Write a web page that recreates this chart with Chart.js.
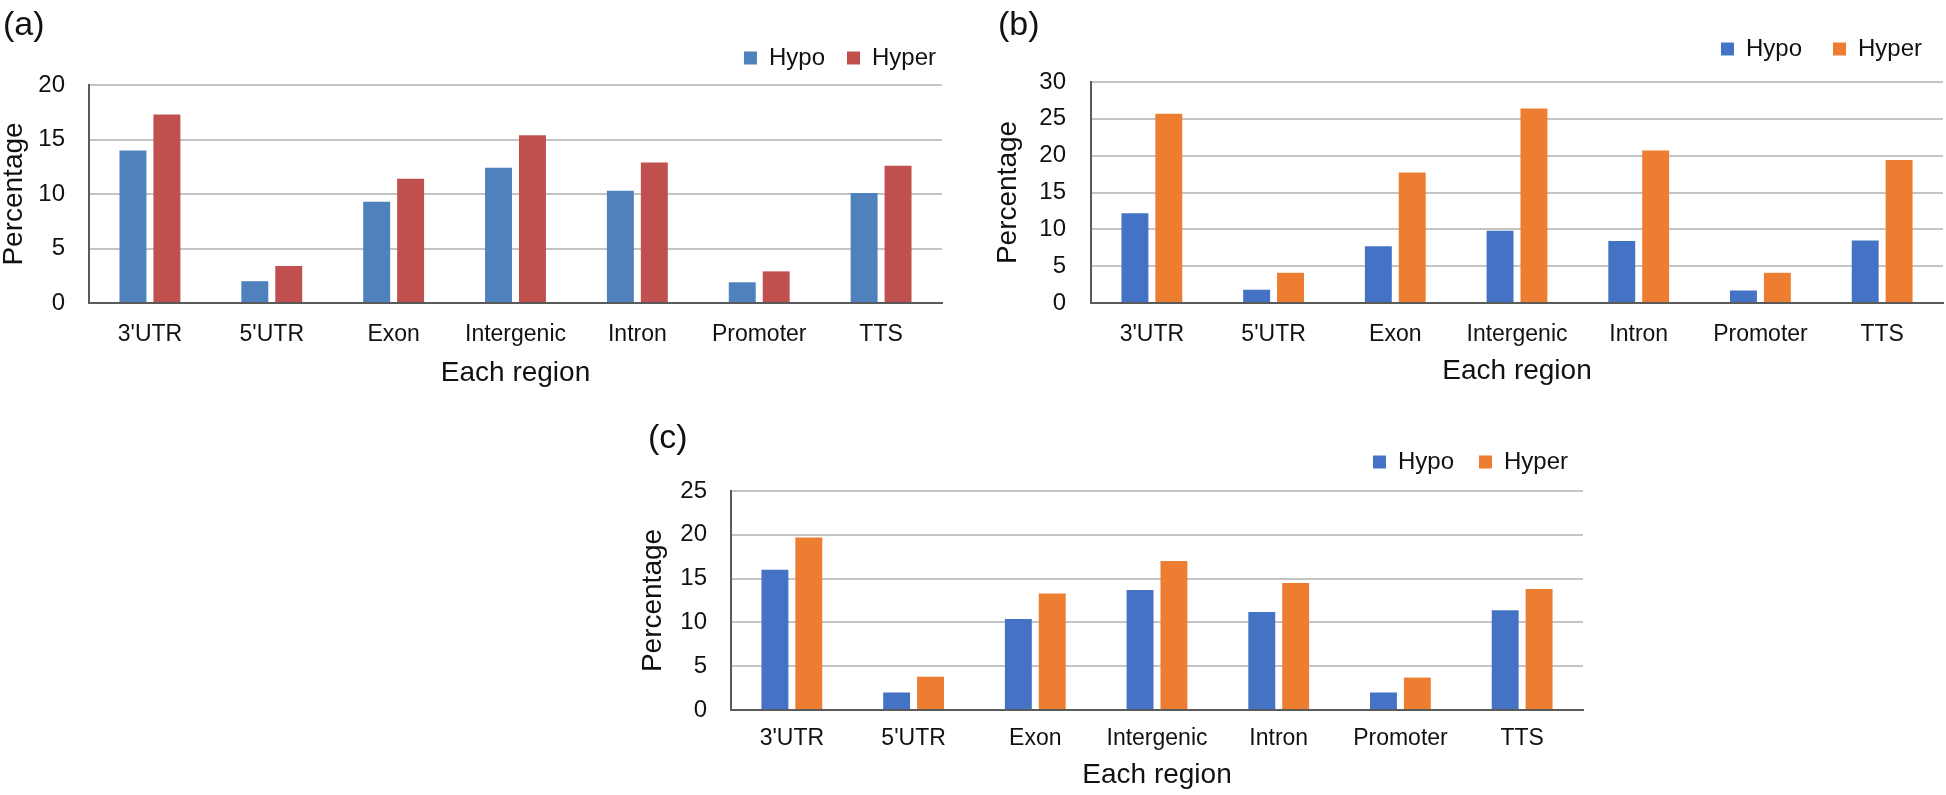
<!DOCTYPE html>
<html>
<head>
<meta charset="utf-8">
<title>Hypo / Hyper by region</title>
<script src="https://cdn.jsdelivr.net/npm/chart.js@4/dist/chart.umd.min.js"></script>
<style>
  html, body { margin: 0; padding: 0; background: #fff; overflow: hidden; }
  body { width: 1946px; height: 795px; position: relative; font-family: "Liberation Sans", Arial, sans-serif; }
  canvas { position: absolute; }
  .tag { position: absolute; font-size: 34px; line-height: 1; color: #111; }
</style>
</head>
<body>
<canvas id="chartA" width="960" height="400" style="left:0;top:0"></canvas>
<canvas id="chartB" width="1000" height="400" style="left:960px;top:0"></canvas>
<canvas id="chartC" width="1000" height="395" style="left:620px;top:400px"></canvas>
<div class="tag" style="left:3px;top:6px">(a)</div>
<div class="tag" style="left:998px;top:6px">(b)</div>
<div class="tag" style="left:648px;top:419px">(c)</div>

<script>
// data
const regions = ["3'UTR", "5'UTR", 'Exon', 'Intergenic', 'Intron', 'Promoter', 'TTS'];
const seriesNames = ['Hypo', 'Hyper'];

const hypoA  = [14.0, 2.0,  9.3, 12.4, 10.3, 1.9, 10.1];
const hyperA = [17.3, 3.4, 11.4, 15.4, 12.9, 2.9, 12.6];

const hypoB  = [12.2, 1.8,  7.7,  9.8,  8.4, 1.7,  8.5];
const hyperB = [25.7, 4.1, 17.7, 26.4, 20.7, 4.1, 19.4];

const hypoC  = [16.0, 2.0, 10.4, 13.7, 11.2, 2.0, 11.4];
const hyperC = [19.7, 3.8, 13.3, 17.0, 14.5, 3.7, 13.8];

const yMaxA = 20, yMaxB = 30, yMaxC = 25;
const yStep = 5;

// styles
const FONT = '"Liberation Sans", Arial, sans-serif';
const TEXT = '#111';
const GRID = '#c4c4c4';
const AXIS = '#5a5a5a';

function makeChart(id, hypo, hyper, colors, yMax, L) {
    // empty helper axes only reserve space (gap under legend, right margin)
    const spacer = (axis, pos, size) => ({
        axis, position: pos, display: true,
        grid: { display: false, drawTicks: false }, border: { display: false },
        ticks: { display: false },
        afterFit: s => { if (axis === 'x') s.height = size; else s.width = size; }
    });

    return new Chart(document.getElementById(id), {
        type: 'bar',
        data: {
            labels: regions,
            datasets: [
                { label: seriesNames[0], data: hypo, backgroundColor: colors[0], xAxisID: 'x', yAxisID: 'y' },
                { label: seriesNames[1], data: hyper, backgroundColor: colors[1], xAxisID: 'x', yAxisID: 'y' }
            ]
        },
        options: {
            responsive: false,
            animation: false,
            categoryPercentage: 0.557,
            barPercentage: 0.794,
            layout: { padding: { top: L.top, right: L.right, left: 0, bottom: 0 } },
            plugins: {
                legend: {
                    position: 'top', align: 'end',
                    labels: { boxWidth: 13, boxHeight: 13, padding: L.legendGap, color: TEXT, font: { family: FONT, size: 24 } }
                },
                tooltip: { enabled: false }
            },
            scales: {
                x: {
                    grid: { display: false, drawTicks: false },
                    border: { color: AXIS, width: 2 },
                    ticks: { padding: L.xTickPad, color: TEXT, font: { family: FONT, size: 23 } },
                    title: { display: true, text: 'Each region', color: TEXT, font: { family: FONT, size: 28, lineHeight: 1 }, padding: { top: 0, bottom: L.xTitlePad } },
                    afterFit: s => { s.height = L.xHeight; }
                },
                y: {
                    min: 0, max: yMax,
                    ticks: { stepSize: yStep, padding: L.yTickPad, color: TEXT, font: { family: FONT, size: 24 } },
                    grid: { color: c => c.tick.value === 0 ? AXIS : GRID, lineWidth: 2, drawTicks: false },
                    border: { color: AXIS, width: 2 },
                    title: { display: true, text: 'Percentage', color: TEXT, font: { family: FONT, size: 28, lineHeight: 1 }, padding: { top: L.yTitlePad, bottom: 0 } },
                    afterFit: s => { s.width = L.yWidth; }
                },
                gapTop: spacer('x', 'top', L.gapTop),
                gapRight: spacer('y', 'right', L.gapRight)
            }
        }
    });
}

makeChart('chartA', hypoA, hyperA, ['#4f81bd', '#c0504d'], yMaxA, {
    top: 24, right: 2, legendGap: 22, gapTop: 5, gapRight: 16,
    yWidth: 89, yTickPad: 24, yTitlePad: 0,
    xHeight: 97, xTickPad: 18, xTitlePad: 13
});

makeChart('chartB', hypoB, hyperB, ['#4472c4', '#ed7d31'], yMaxB, {
    top: 6, right: 7, legendGap: 31, gapTop: 11, gapRight: 10,
    yWidth: 131, yTickPad: 25, yTitlePad: 34,
    xHeight: 97, xTickPad: 18, xTitlePad: 15
});

makeChart('chartC', hypoC, hyperC, ['#4472c4', '#ed7d31'], yMaxC, {
    top: 25, right: 27, legendGap: 25, gapTop: 7, gapRight: 10,
    yWidth: 111, yTickPad: 24, yTitlePad: 19,
    xHeight: 85, xTickPad: 15, xTitlePad: 6
});
</script>
</body>
</html>
